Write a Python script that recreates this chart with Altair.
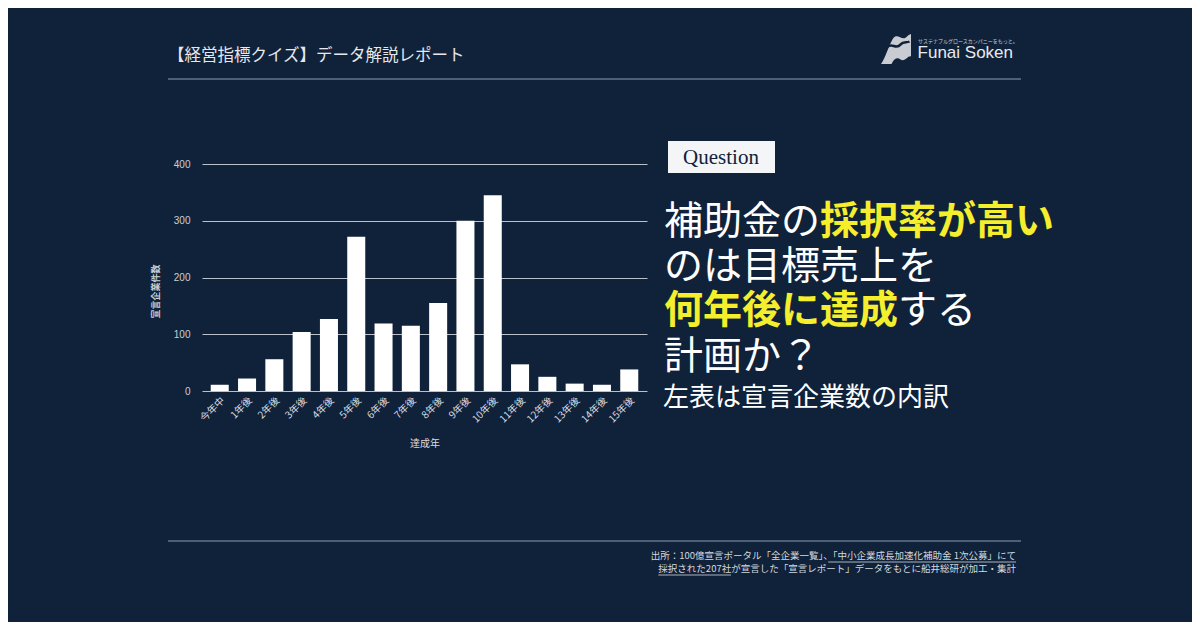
import altair as alt
import pandas as pd

# ---- data ----
categories = ["今年中", "1年後", "2年後", "3年後", "4年後", "5年後", "6年後", "7年後",
              "8年後", "9年後", "10年後", "11年後", "12年後", "13年後", "14年後", "15年後"]
counts = [11, 22, 56, 104, 127, 272, 119, 115, 155, 300, 345, 47, 25, 13, 11, 38]
y_ticks = [0, 100, 200, 300, 400]

header_text = "【経営指標クイズ】データ解説レポート"
logo_text = "Funai Soken"
logo_sub = "サステナブルグロースカンパニーをもっと。"
question_label = "Question"
q_lines = [
    [("補助金の", "white"), ("採択率が高い", "yellow")],
    [("のは目標売上を", "white")],
    [("何年後に達成", "yellow"), ("する", "white")],
    [("計画か？", "white")],
]
sub_line = "左表は宣言企業数の内訳"
source_1 = "出所：100億宣言ポータル「全企業一覧」、「中小企業成長加速化補助金 1次公募」にて"
source_2 = "採択された207社が宣言した「宣言レポート」データをもとに船井総研が加工・集計"

BG = "#10223a"
YELLOW = "#f4ee2c"
JP = "Noto Sans CJK JP"

df = pd.DataFrame({"cat": categories, "n": counts})

# plot area origin in page coords
OX, OY = 202, 164
PW, PH = 445, 227
SVG_W, SVG_H = 1184, 614


def px(x):
    return x - OX


def py(y):
    return y - OY


bars = alt.Chart(df).mark_bar(color="white").encode(
    x=alt.X("cat:N", sort=categories, title="達成年",
            scale=alt.Scale(paddingInner=0.34, paddingOuter=0.32),
            axis=alt.Axis(labelAngle=-45, labelColor="#d8dde3", labelFontSize=10,
                          labelFont=JP, ticks=False, domain=False, labelPadding=4,
                          titleColor="#d8dde3", titleFont=JP, titleFontSize=10,
                          titleFontWeight="normal", titlePadding=14)),
    y=alt.Y("n:Q", title="宣言企業件数",
            scale=alt.Scale(domain=[0, 400]),
            axis=alt.Axis(values=y_ticks, labelColor="#c9cfd6", labelFontSize=10,
                          labelFont="Liberation Sans", ticks=False, domain=False,
                          labelPadding=12, gridColor="#b9c2cc", gridWidth=1,
                          titleColor="#c9cfd6", titleFont=JP, titleFontSize=9,
                          titleFontWeight="bold", titleX=-47, titleY=127,
                          titleBaseline="middle")),
)

one = pd.DataFrame({"k": [0]})


def text_at(txt, x, y, size, color, font=JP, align="left", weight="normal", baseline="middle"):
    return alt.Chart(one).mark_text(
        text=txt, fontSize=size, color=color, font=font, align=align,
        baseline=baseline, fontWeight=weight
    ).encode(x=alt.value(px(x)), y=alt.value(py(y)))


def hrule(x1, x2, y, color, width=1):
    return alt.Chart(one).mark_rule(color=color, strokeWidth=width).encode(
        x=alt.value(px(x1)), x2=alt.value(px(x2)), y=alt.value(py(y)))


layers = [bars]
# header
layers.append(text_at(header_text, 168, 56, 16.5, "#e6e8ec"))
layers.append(hrule(168, 1021, 79, "#8d9bb0"))
# logo (wave emblem + wordmark)
wave_path = ("M-1,1 C-0.7,0.6 -0.5,-0.2 -0.2,-0.7 C0.1,-1.1 0.4,-0.5 0.7,-0.8 "
             "C0.85,-0.95 0.95,-1 1,-1 L1,0.5 C0.8,0.4 0.6,0.9 0.3,0.7 "
             "C0.1,0.55 -0.1,0.6 -0.3,1 Z")
layers.append(alt.Chart(one).mark_point(shape=wave_path, filled=True, color="#c9cdd3",
                                        opacity=1, size=900).encode(
    x=alt.value(px(896)), y=alt.value(py(49))))
layers.append(alt.Chart(one).mark_point(
    shape="M-0.6,-0.1 C-0.3,-0.5 0,0.1 0.3,-0.3 C0.5,-0.5 0.7,-0.4 0.9,-0.5",
    filled=False, color=BG, strokeWidth=2.5, opacity=1, size=900).encode(
    x=alt.value(px(896)), y=alt.value(py(49))))
layers.append(text_at(logo_text, 1013, 53, 17, "#e8ebef", font="Liberation Sans", align="right"))
layers.append(text_at(logo_sub, 918, 41, 5, "#c8ced6"))
# question box
layers.append(alt.Chart(one).mark_rect(color="#f4f5f7").encode(
    x=alt.value(px(668)), x2=alt.value(px(775)), y=alt.value(py(141)), y2=alt.value(py(173))))
layers.append(text_at(question_label, 721, 158, 21, "#10223a",
                      font="Liberation Serif", align="center"))
# question lines
FS = 39
line_y = [222, 267, 311, 357]
for row, yy in zip(q_lines, line_y):
    x0 = 664
    for seg, col in row:
        layers.append(text_at(seg, x0, yy, FS, YELLOW if col == "yellow" else "white",
                              weight="bold" if col == "yellow" else "normal"))
        x0 += FS * len(seg)
layers.append(text_at(sub_line, 663, 398, 26, "white"))
# footer
FFS = 9.5
layers.append(hrule(168, 1021, 541, "#8d9bb0"))
layers.append(text_at(source_1, 1016, 556, FFS, "#d5d9df", align="right"))
layers.append(text_at(source_2, 1016, 569, FFS, "#d5d9df", align="right"))
layers.append(hrule(1016 - 19.77 * FFS, 1016, 562, "#d5d9df", 0.8))
layers.append(hrule(1016 - 37.65 * FFS, 1016 - 30.0 * FFS, 575, "#d5d9df", 0.8))

chart = alt.layer(*layers).properties(
    width=PW, height=PH,
    background=BG,
    autosize=alt.AutoSizeParams(type="none"),
    padding={"left": OX - 8, "top": OY - 8,
             "right": SVG_W - (OX - 8) - PW, "bottom": SVG_H - (OY - 8) - PH},
).configure_view(stroke=None)

chart.save("out.html", embed_options={"renderer": "svg", "actions": False})
